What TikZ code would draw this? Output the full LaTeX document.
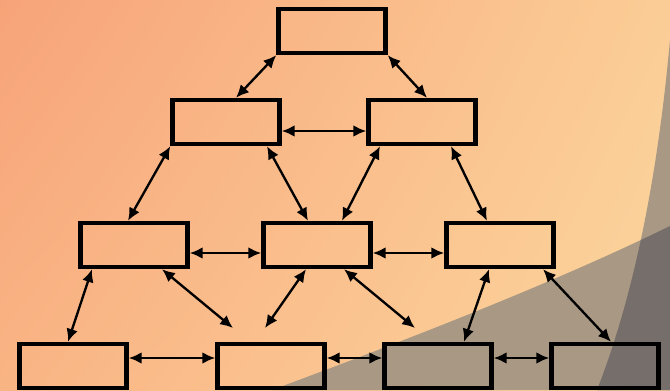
\documentclass[tikz,border=0pt]{standalone}
\usepackage{tikz}
\usetikzlibrary{arrows.meta, calc, shadings}
\definecolor{salmonA}{RGB}{247,163,121}
\definecolor{peachA}{RGB}{251,205,150}
\definecolor{salmonB}{RGB}{249,180,132}
\definecolor{peachB}{RGB}{252,214,158}
\definecolor{shadeA}{RGB}{169,153,132}
\definecolor{shadeB}{RGB}{118,110,106}
\tikzstyle{box} = [rectangle, minimum width=3.21cm, minimum height=1.32cm, inner sep=0pt, draw=black, line width=3.8pt]
\tikzstyle{arrow} = [line width=2pt,<->,>={Latex[length=11pt,width=10pt]}]

\begin{document}
\begin{tikzpicture}[x=0.03cm, y=-0.03cm]
\useasboundingbox (0,0) rectangle (670,390);
% background
\shade[upper left=salmonA, upper right=peachA, lower left=salmonB, lower right=peachB] (0,0) rectangle (670,390);
\fill[shadeA] (272,390) .. controls (420,335) and (560,280) .. (670,226) -- (670,390) -- cycle;
\fill[shadeA] (670,40) .. controls (660,150) and (640,280) .. (597,390) -- (670,390) -- cycle;
\begin{scope}
\clip (272,390) .. controls (420,335) and (560,280) .. (670,226) -- (670,390) -- cycle;
\fill[shadeB] (670,40) .. controls (660,150) and (640,280) .. (597,390) -- (670,390) -- cycle;
\end{scope}

\node (b1) [box] at (332,31) {};
\node (b2) [box] at (226,122) {};
\node (b3) [box] at (422,122) {};
\node (b4) [box] at (134,245) {};
\node (b5) [box] at (317,245) {};
\node (b6) [box] at (500,245) {};
\node (b7) [box] at (73,366) {};
\node (b8) [box] at (271,366) {};
\node (b9) [box] at (438,366) {};
\node (b10) [box] at (605,366) {};
\coordinate (e1) at (233,328);
\coordinate (e2) at (265,328);
\coordinate (e3) at (415,328);

\draw [arrow] (b1.south west) -- ($(b2.north)+(10,0)$);
\draw [arrow] (b1.south east) -- ($(b3.north)+(5,0)$);
\draw [arrow] ($(b2.east)+(0,9)$) -- ($(b3.west)+(0,9)$);
\draw [arrow] (b2.south west) -- ($(b4.north)+(-6,0)$);
\draw [arrow] ($(b2.south)+(41,0)$) -- ($(b5.north)+(-9,0)$);
\draw [arrow] ($(b3.south)+(-42,0)$) -- ($(b5.north)+(25,0)$);
\draw [arrow] ($(b3.south)+(29,0)$) -- ($(b6.north)+(-13,0)$);
\draw [arrow] ($(b4.east)+(0,8)$) -- ($(b5.west)+(0,8)$);
\draw [arrow] ($(b5.east)+(0,8)$) -- ($(b6.west)+(0,8)$);
\draw [arrow] ($(b4.south)+(-42,0)$) -- ($(b7.north)+(-5,0)$);
\draw [arrow] ($(b4.south)+(28,0)$) -- (e1);
\draw [arrow] ($(b5.south)+(-11,0)$) -- (e2);
\draw [arrow] ($(b5.south)+(27,0)$) -- (e3);
\draw [arrow] ($(b6.south)+(-11,0)$) -- ($(b9.north)+(26,0)$);
\draw [arrow] ($(b6.south)+(43,0)$) -- ($(b10.north)+(6,0)$);
\draw [arrow] ($(b7.east)+(0,-8)$) -- ($(b8.west)+(0,-8)$);
\draw [arrow] ($(b8.east)+(0,-8)$) -- ($(b9.west)+(0,-8)$);
\draw [arrow] ($(b9.east)+(0,-8)$) -- ($(b10.west)+(0,-8)$);

\end{tikzpicture}
\end{document}
